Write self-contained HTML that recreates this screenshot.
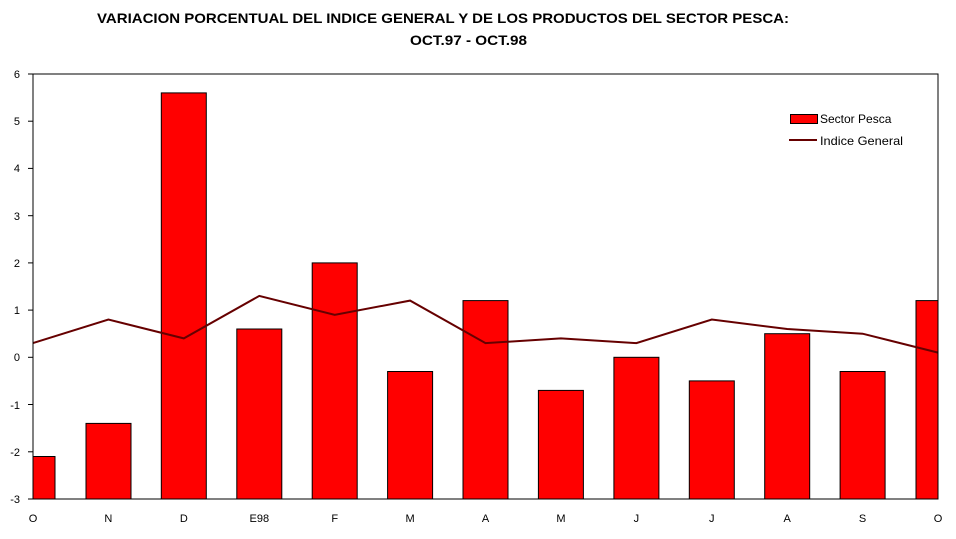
<!DOCTYPE html>
<html><head><meta charset="utf-8"><style>body{margin:0;background:#fff}svg{display:block}text{font-family:"Liberation Sans",Arial,sans-serif}</style></head><body>
<svg width="956" height="539" viewBox="0 0 956 539" xmlns="http://www.w3.org/2000/svg">
<text x="97" y="23" font-size="14" font-weight="bold" textLength="692" lengthAdjust="spacingAndGlyphs">VARIACION PORCENTUAL DEL INDICE GENERAL Y DE LOS PRODUCTOS DEL SECTOR PESCA:</text>
<text x="410" y="45" font-size="14" font-weight="bold" textLength="117" lengthAdjust="spacingAndGlyphs">OCT.97 - OCT.98</text>
<g fill="#ff0000" stroke="#000" stroke-width="1">
<rect x="33" y="456.5" width="22" height="42.5"/>
<rect x="86" y="423.4" width="45" height="75.6"/>
<rect x="161.3" y="92.9" width="45" height="406.1"/>
<rect x="236.8" y="329" width="45" height="170"/>
<rect x="312.2" y="262.9" width="45" height="236.1"/>
<rect x="387.6" y="371.5" width="45" height="127.5"/>
<rect x="463" y="300.6" width="45" height="198.4"/>
<rect x="538.4" y="390.4" width="45" height="108.6"/>
<rect x="613.9" y="357.3" width="45" height="141.7"/>
<rect x="689.3" y="380.9" width="45" height="118.1"/>
<rect x="764.7" y="333.7" width="45" height="165.3"/>
<rect x="840.1" y="371.5" width="45" height="127.5"/>
<rect x="916" y="300.6" width="22" height="198.4"/>
</g>
<polyline fill="none" stroke="#660000" stroke-width="2" points="33,343.1 108.4,319.5 183.8,338.4 259.3,295.9 334.7,314.8 410.1,300.6 485.5,343.1 560.9,338.4 636.4,343.1 711.8,319.5 787.2,329 862.6,333.7 938,352.6"/>
<rect x="33" y="74" width="905" height="425" fill="none" stroke="#000"/>
<g stroke="#000">
<line x1="28" y1="74" x2="33" y2="74"/><line x1="28" y1="121.2" x2="33" y2="121.2"/><line x1="28" y1="168.4" x2="33" y2="168.4"/><line x1="28" y1="215.7" x2="33" y2="215.7"/><line x1="28" y1="262.9" x2="33" y2="262.9"/><line x1="28" y1="310.1" x2="33" y2="310.1"/><line x1="28" y1="357.3" x2="33" y2="357.3"/><line x1="28" y1="404.5" x2="33" y2="404.5"/><line x1="28" y1="451.8" x2="33" y2="451.8"/><line x1="28" y1="499" x2="33" y2="499"/>
</g>
<g font-size="11" text-anchor="end">
<text x="20" y="78">6</text><text x="20" y="125">5</text><text x="20" y="172">4</text><text x="20" y="220">3</text><text x="20" y="267">2</text><text x="20" y="314">1</text><text x="20" y="361">0</text><text x="20" y="409">-1</text><text x="20" y="456">-2</text><text x="20" y="503">-3</text>
</g>
<g font-size="11" text-anchor="middle">
<text x="33" y="522">O</text><text x="108.4" y="522">N</text><text x="183.8" y="522">D</text><text x="259.3" y="522">E98</text><text x="334.7" y="522">F</text><text x="410.1" y="522">M</text><text x="485.5" y="522">A</text><text x="560.9" y="522">M</text><text x="636.4" y="522">J</text><text x="711.8" y="522">J</text><text x="787.2" y="522">A</text><text x="862.6" y="522">S</text><text x="938" y="522">O</text>
</g>
<rect x="790.5" y="114.5" width="27" height="9" fill="#ff0000" stroke="#000"/>
<text x="820" y="123" font-size="12">Sector Pesca</text>
<line x1="789" y1="140" x2="817" y2="140" stroke="#660000" stroke-width="2"/>
<text x="820" y="145" font-size="12" textLength="83" lengthAdjust="spacingAndGlyphs">Indice General</text>
</svg>
</body></html>
